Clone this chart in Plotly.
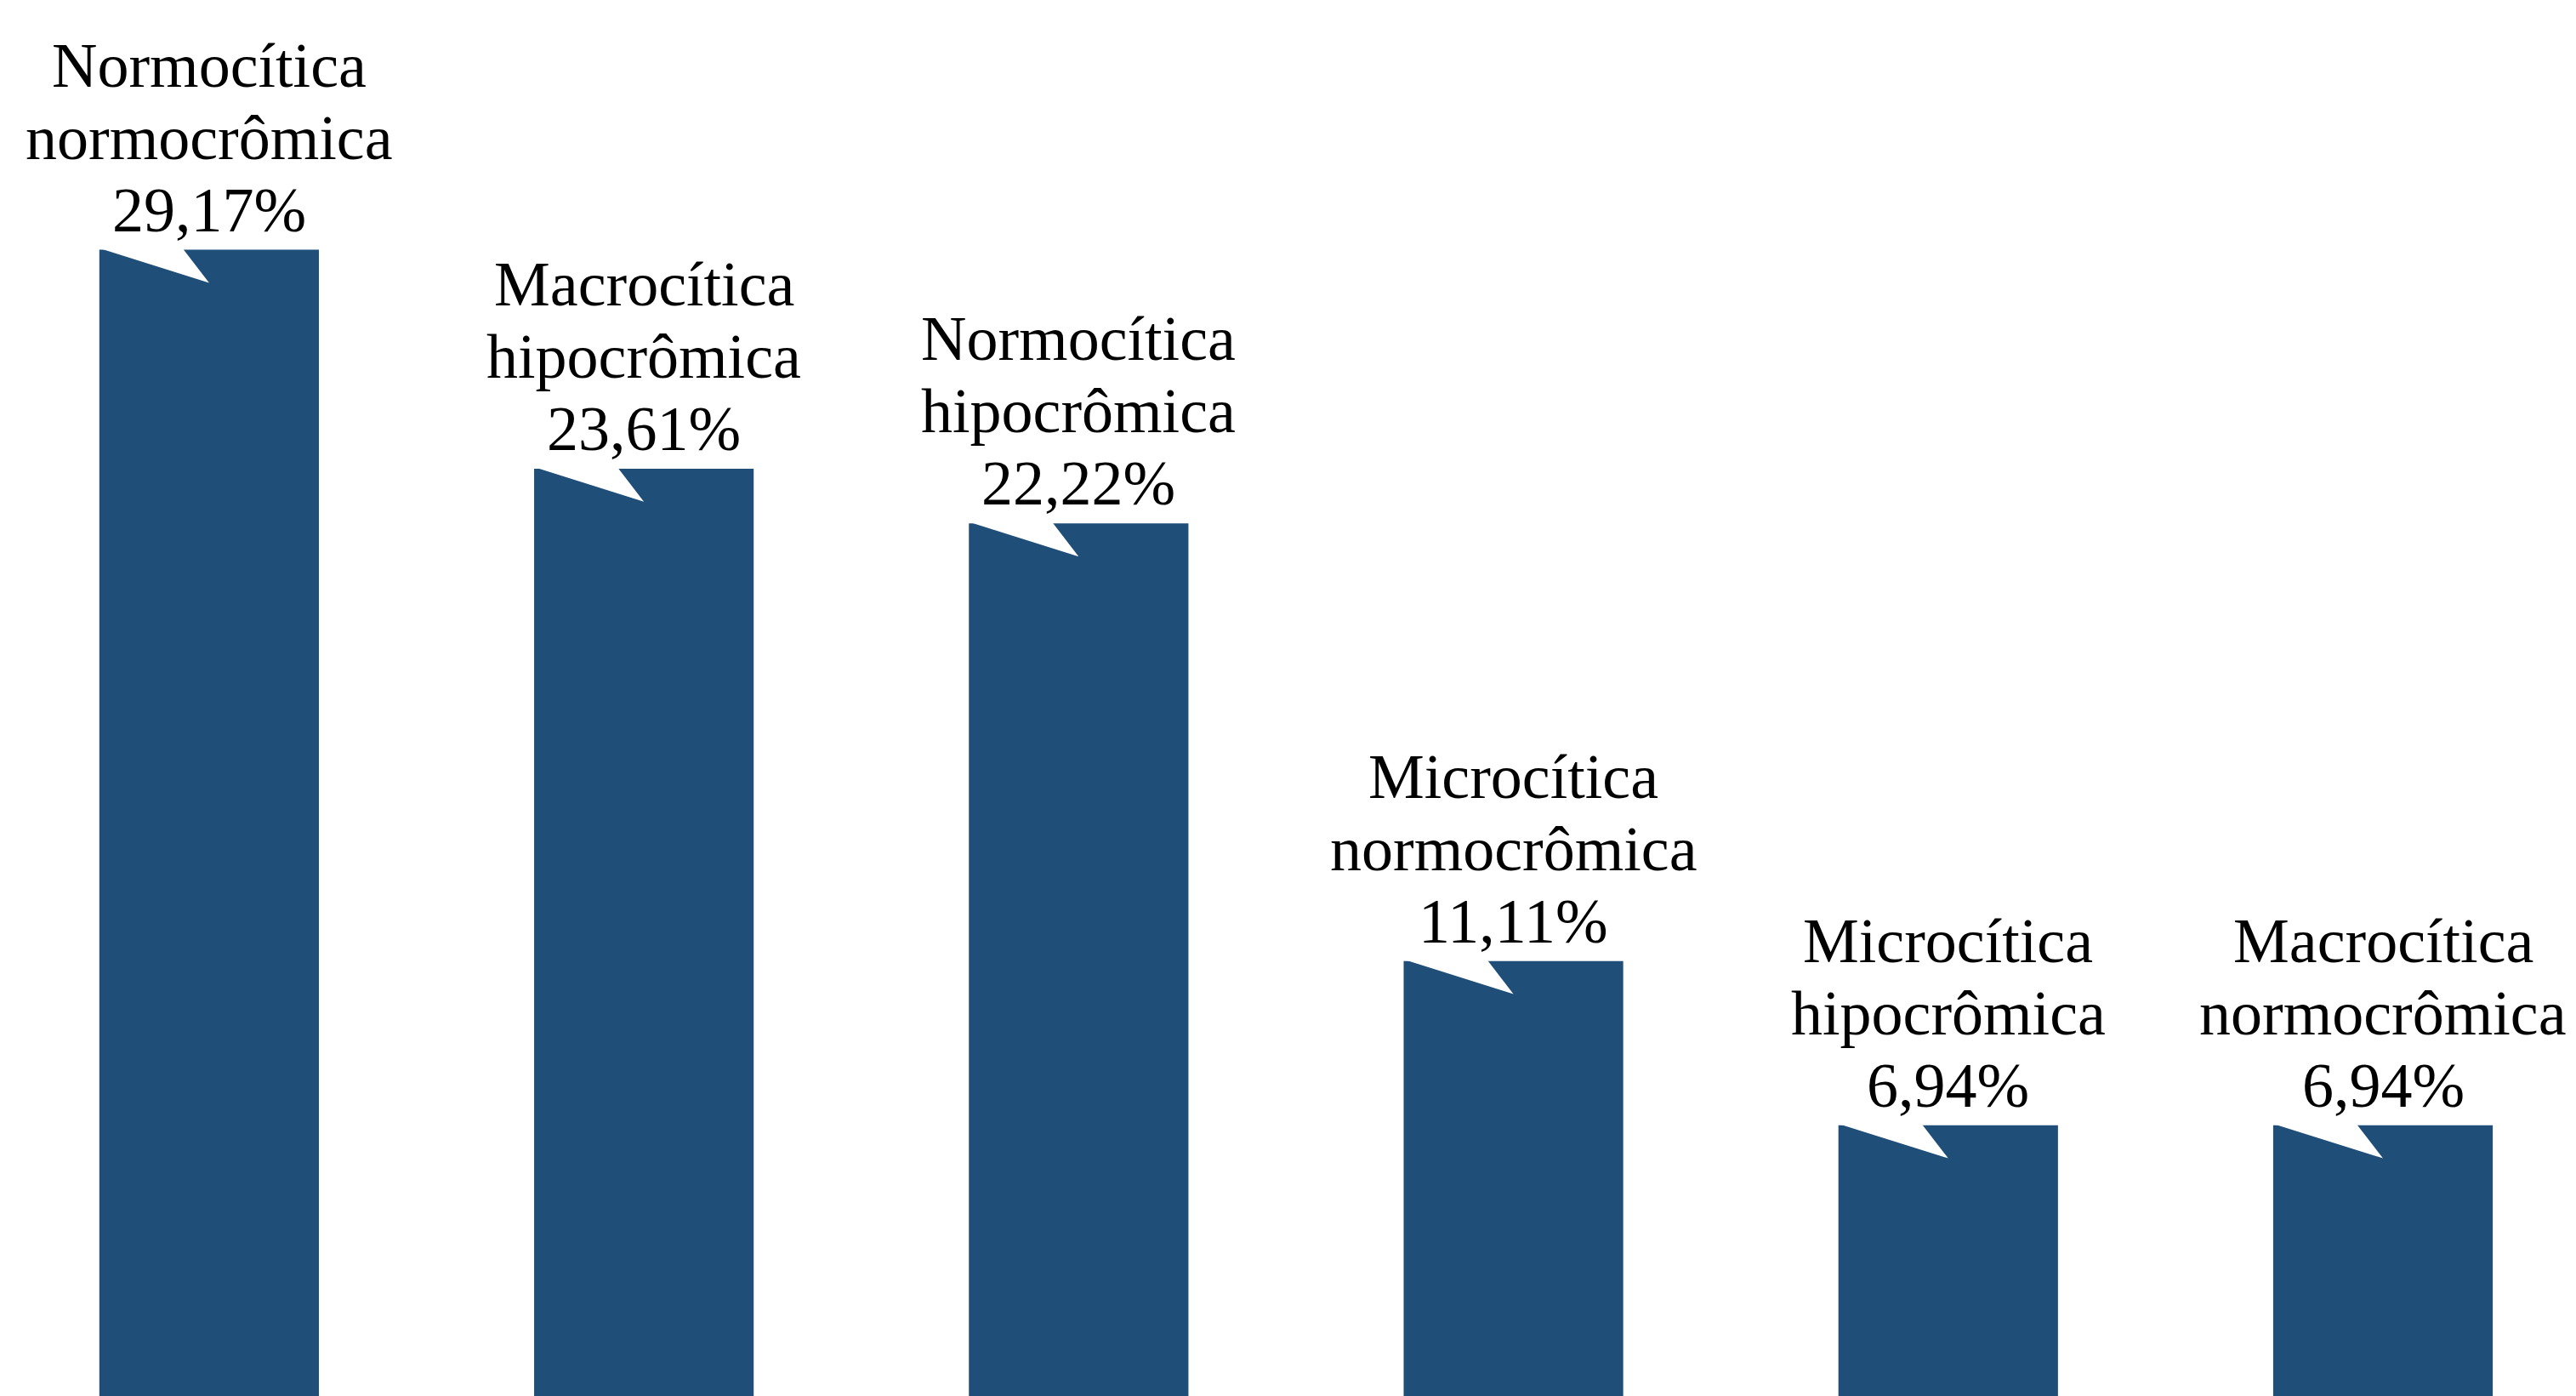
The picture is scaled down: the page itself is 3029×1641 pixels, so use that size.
import plotly.graph_objects as go

# --- data ---
morfologia = ["Normocítica", "Macrocítica", "Normocítica", "Microcítica", "Microcítica", "Macrocítica"]
cromia = ["normocrômica", "hipocrômica", "hipocrômica", "normocrômica", "hipocrômica", "normocrômica"]
percentuais = [29.17, 23.61, 22.22, 11.11, 6.94, 6.94]

BAR_COLOR = "#1F4E79"
FONT = "Liberation Serif, Times New Roman, serif"
FS = 74

xs = list(range(len(percentuais)))

fig = go.Figure()
fig.add_trace(go.Bar(
    x=xs, y=percentuais, width=0.505,
    marker=dict(color=BAR_COLOR, line=dict(width=0)),
    hoverinfo="skip", showlegend=False,
))

# callout pointer notches (white), derived from each bar's position/value
for i, v in zip(xs, percentuais):
    fig.add_trace(go.Scatter(
        x=[i - 0.256, i - 0.062, i, i - 0.256],
        y=[v + 0.05, v + 0.05, v - 0.84, v + 0.05],
        mode="lines", fill="toself", fillcolor="white",
        line=dict(width=0, color="white"),
        hoverinfo="skip", showlegend=False,
    ))

annotations = []
for i, (l1, l2, v) in enumerate(zip(morfologia, cromia, percentuais)):
    txt = f"{v:.2f}".replace(".", ",") + "%"
    for k, t in enumerate([txt, l2, l1]):
        annotations.append(dict(
            x=i, y=v, xref="x", yref="y", text=t, showarrow=False,
            xanchor="center", yanchor="bottom", yshift=4 + 85 * k,
            font=dict(family=FONT, size=FS, color="black"),
        ))

fig.update_layout(
    width=3029, height=1641,
    margin=dict(l=0, r=0, t=0, b=0),
    paper_bgcolor="white", plot_bgcolor="white",
    xaxis=dict(range=[-0.481, 5.444], visible=False, fixedrange=True),
    yaxis=dict(range=[0.065, 35.51], visible=False, fixedrange=True),
    annotations=annotations,
    showlegend=False,
)

fig.write_html("out.html", config={"displayModeBar": False},
               post_script="document.body.style.margin='0';")
